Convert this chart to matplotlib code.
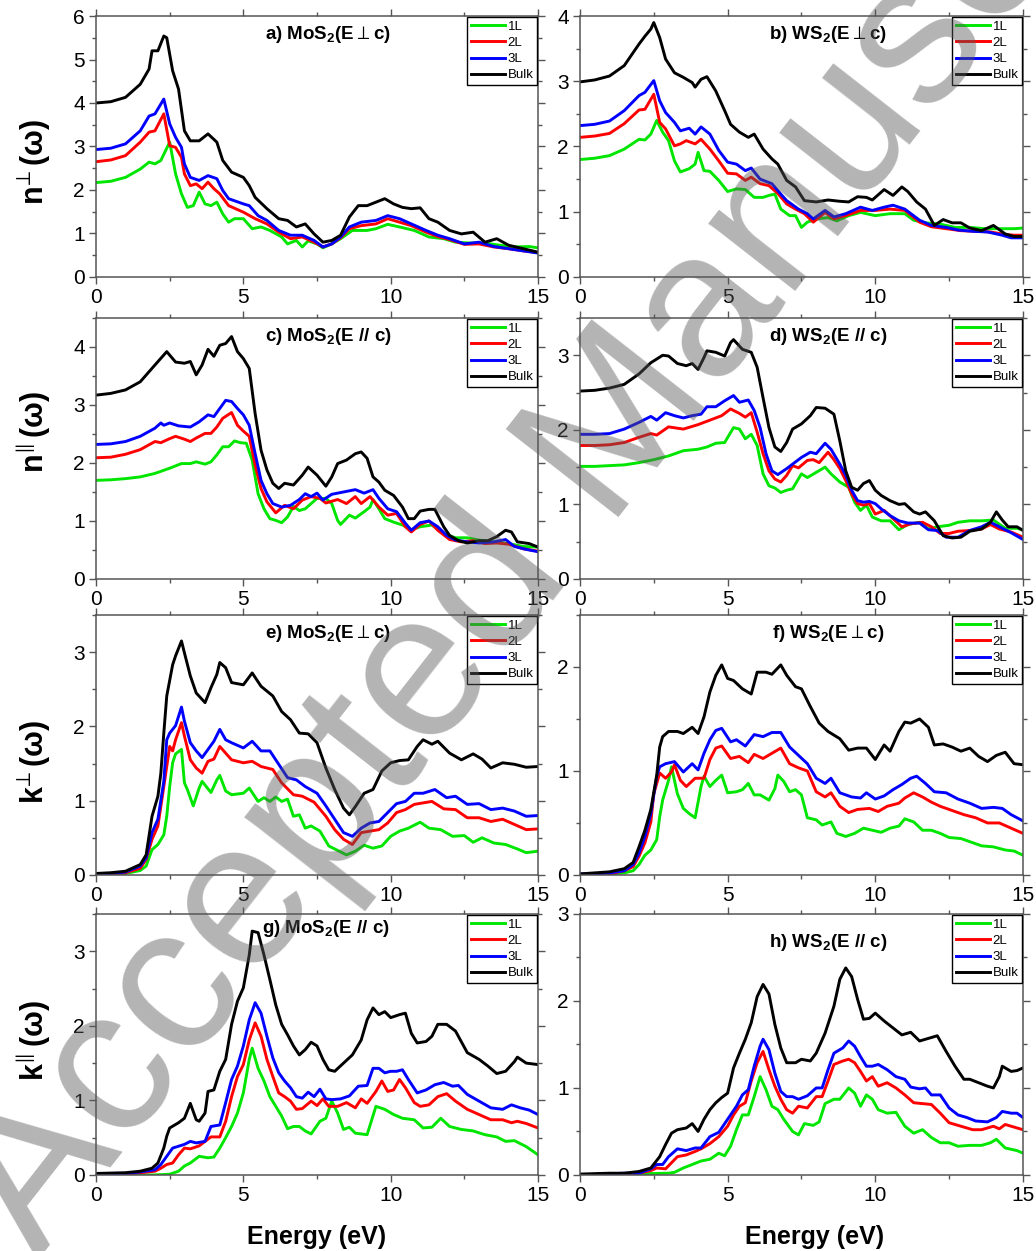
import numpy as np
import matplotlib.pyplot as plt
from matplotlib.ticker import MultipleLocator

plt.rcParams['font.family'] = ['Liberation Sans', 'DejaVu Sans']
plt.rcParams['mathtext.fontset'] = 'custom'
plt.rcParams['mathtext.rm'] = 'Liberation Sans'
plt.rcParams['mathtext.bf'] = 'Liberation Sans:bold'
plt.rcParams['mathtext.fallback'] = 'stixsans'

# (energy in eV, value) pairs read per layer count

# a) MoS2 n, E perp c
a_1L = [(0,2.17),(0.5,2.2),(1,2.29),(1.5,2.48),(1.8,2.64),(2.0,2.6),(2.2,2.68),(2.5,3.1),(2.7,2.37),(2.9,1.91),(3.1,1.6),(3.3,1.64),(3.5,1.95),(3.7,1.68),(3.9,1.64),(4.1,1.72),(4.3,1.45),(4.5,1.26),(4.7,1.34),(5.0,1.34),(5.3,1.11),(5.6,1.15),(5.9,1.07),(6.3,0.92),(6.5,0.76),(6.8,0.84),(7.0,0.69),(7.2,0.83),(7.5,0.76),(7.7,0.67),(8.0,0.76),(8.3,0.88),(8.7,1.07),(9.2,1.07),(9.5,1.11),(9.9,1.21),(10.3,1.15),(10.8,1.07),(11.3,0.92),(11.8,0.88),(12.2,0.8),(12.7,0.78),(13.2,0.78),(13.7,0.73),(14.2,0.69),(14.7,0.7),(15,0.67)]
a_2L = [(0,2.65),(0.5,2.69),(1,2.79),(1.5,3.1),(1.8,3.33),(2.0,3.36),(2.3,3.75),(2.5,3.02),(2.7,2.98),(2.9,2.75),(3.0,2.37),(3.2,2.1),(3.4,2.14),(3.6,2.03),(3.8,2.18),(4.0,2.03),(4.2,1.91),(4.5,1.64),(5.0,1.49),(5.4,1.34),(5.8,1.22),(6.2,1.03),(6.6,0.88),(7.0,0.92),(7.4,0.8),(7.7,0.69),(8.0,0.76),(8.3,0.9),(8.6,1.11),(9.0,1.18),(9.5,1.22),(9.9,1.34),(10.3,1.26),(10.7,1.18),(11.2,1.03),(11.6,0.93),(12.0,0.86),(12.5,0.75),(13.0,0.76),(13.5,0.69),(14.0,0.65),(14.5,0.6),(15,0.56)]
a_3L = [(0,2.93),(0.5,2.96),(1,3.06),(1.5,3.36),(1.8,3.7),(2.0,3.75),(2.3,4.09),(2.5,3.52),(2.7,3.21),(2.9,2.98),(3.0,2.6),(3.2,2.29),(3.5,2.22),(3.8,2.33),(4.1,2.26),(4.3,1.99),(4.5,1.8),(5.0,1.68),(5.2,1.64),(5.5,1.41),(5.8,1.3),(6.2,1.07),(6.6,0.96),(7.0,0.96),(7.4,0.84),(7.7,0.69),(8.0,0.76),(8.3,0.92),(8.6,1.15),(9.0,1.26),(9.5,1.3),(9.9,1.41),(10.3,1.34),(10.7,1.22),(11.2,1.07),(11.6,0.96),(12.0,0.88),(12.5,0.76),(13.0,0.8),(13.5,0.7),(14.0,0.65),(14.5,0.6),(15,0.55)]
a_bulk = [(0,4.0),(0.5,4.03),(1,4.13),(1.5,4.43),(1.8,4.78),(1.9,5.2),(2.1,5.2),(2.3,5.54),(2.4,5.5),(2.6,4.74),(2.8,4.32),(3.0,3.36),(3.2,3.13),(3.5,3.13),(3.8,3.29),(4.1,3.1),(4.3,2.68),(4.6,2.41),(5.0,2.29),(5.2,2.1),(5.4,1.83),(5.8,1.57),(6.2,1.34),(6.5,1.3),(6.8,1.15),(7.1,1.22),(7.4,0.99),(7.7,0.8),(8.0,0.84),(8.3,0.96),(8.6,1.38),(8.9,1.64),(9.2,1.64),(9.5,1.72),(9.8,1.8),(10.1,1.68),(10.4,1.6),(10.7,1.57),(11.0,1.59),(11.3,1.34),(11.6,1.26),(12.0,1.07),(12.4,0.99),(12.8,1.03),(13.2,0.8),(13.6,0.88),(14.0,0.73),(14.5,0.65),(15,0.57)]

# b) WS2 n, E perp c
b_1L = [(0,1.8),(0.5,1.82),(1,1.86),(1.5,1.96),(2.0,2.11),(2.2,2.1),(2.4,2.19),(2.6,2.4),(2.8,2.22),(3.0,2.09),(3.2,1.78),(3.4,1.61),(3.7,1.66),(3.9,1.73),(4.0,1.91),(4.2,1.63),(4.4,1.62),(4.7,1.48),(5.0,1.31),(5.3,1.35),(5.6,1.34),(5.9,1.22),(6.2,1.22),(6.4,1.25),(6.6,1.27),(6.8,1.04),(7.1,0.94),(7.3,0.94),(7.5,0.76),(7.7,0.84),(8.0,0.89),(8.4,0.91),(8.7,0.86),(9.1,0.94),(9.5,0.99),(10.0,0.94),(10.5,0.97),(11.0,0.97),(11.3,0.87),(11.7,0.83),(12.2,0.81),(12.7,0.76),(13.2,0.76),(13.7,0.74),(14.2,0.74),(14.7,0.74),(15,0.75)]
b_2L = [(0,2.14),(0.5,2.16),(1,2.2),(1.5,2.35),(2.0,2.56),(2.2,2.57),(2.5,2.8),(2.7,2.37),(2.9,2.27),(3.2,2.01),(3.4,2.04),(3.6,2.09),(3.9,2.04),(4.1,2.11),(4.4,1.96),(4.7,1.78),(5.0,1.59),(5.3,1.58),(5.6,1.48),(5.8,1.53),(6.1,1.43),(6.4,1.4),(6.7,1.28),(7.0,1.12),(7.3,1.04),(7.6,0.97),(7.9,0.84),(8.3,0.99),(8.6,0.89),(9.0,0.94),(9.5,1.02),(10.0,1.02),(10.5,1.04),(11.0,1.02),(11.5,0.84),(11.9,0.77),(12.4,0.74),(12.9,0.71),(13.4,0.7),(13.9,0.69),(14.4,0.65),(14.7,0.64),(15,0.64)]
b_3L = [(0,2.32),(0.5,2.34),(1,2.39),(1.5,2.55),(2.0,2.78),(2.2,2.83),(2.5,3.01),(2.7,2.7),(2.9,2.52),(3.2,2.37),(3.4,2.24),(3.7,2.28),(3.9,2.19),(4.1,2.3),(4.4,2.19),(4.7,1.94),(5.0,1.76),(5.3,1.73),(5.6,1.63),(5.8,1.67),(6.1,1.5),(6.5,1.43),(6.8,1.27),(7.0,1.17),(7.4,1.04),(7.7,0.97),(7.9,0.89),(8.3,1.02),(8.6,0.92),(9.0,0.97),(9.5,1.07),(9.9,1.02),(10.3,1.07),(10.6,1.1),(11.0,1.04),(11.5,0.87),(11.9,0.79),(12.4,0.76),(12.8,0.72),(13.3,0.7),(13.8,0.69),(14.3,0.64),(14.6,0.6),(15,0.6)]
b_bulk = [(0,2.99),(0.5,3.02),(1,3.08),(1.5,3.24),(2.0,3.57),(2.2,3.69),(2.4,3.8),(2.5,3.9),(2.7,3.67),(2.9,3.34),(3.2,3.13),(3.5,3.06),(3.8,2.98),(3.9,2.91),(4.1,3.03),(4.3,3.07),(4.6,2.85),(4.9,2.55),(5.1,2.34),(5.4,2.22),(5.7,2.14),(5.9,2.19),(6.2,1.96),(6.5,1.81),(6.7,1.73),(7.0,1.48),(7.3,1.38),(7.6,1.17),(8.0,1.15),(8.4,1.18),(8.8,1.16),(9.1,1.15),(9.4,1.23),(9.7,1.22),(9.9,1.18),(10.3,1.34),(10.6,1.25),(10.9,1.38),(11.1,1.31),(11.4,1.15),(11.7,1.04),(12.0,0.79),(12.3,0.88),(12.6,0.83),(12.9,0.83),(13.2,0.75),(13.6,0.71),(14.0,0.79),(14.4,0.66),(14.7,0.62),(15,0.62)]

# c) MoS2 n, E // c
c_1L = [(0,1.7),(0.5,1.71),(1,1.73),(1.5,1.76),(2.0,1.82),(2.5,1.91),(2.9,1.99),(3.2,1.99),(3.4,2.02),(3.7,1.98),(3.9,2.02),(4.1,2.14),(4.3,2.28),(4.5,2.28),(4.7,2.38),(4.9,2.35),(5.1,2.34),(5.3,2.05),(5.5,1.47),(5.7,1.21),(5.9,1.04),(6.1,1.01),(6.3,0.97),(6.5,1.07),(6.7,1.25),(6.9,1.18),(7.1,1.21),(7.3,1.3),(7.5,1.39),(7.8,1.39),(8.0,1.3),(8.2,1.01),(8.3,0.94),(8.6,1.1),(8.8,1.05),(9.1,1.16),(9.3,1.24),(9.4,1.37),(9.6,1.21),(9.8,1.04),(10.1,0.98),(10.4,0.93),(10.7,0.85),(11.0,0.9),(11.4,0.93),(11.8,0.78),(12.2,0.71),(12.6,0.71),(13.0,0.67),(13.5,0.64),(14.0,0.61),(14.5,0.56),(15,0.55)]
c_2L = [(0,2.09),(0.5,2.1),(1,2.15),(1.5,2.23),(2.0,2.37),(2.2,2.35),(2.5,2.42),(2.7,2.46),(3.0,2.41),(3.2,2.37),(3.4,2.43),(3.7,2.51),(3.9,2.51),(4.1,2.62),(4.3,2.77),(4.6,2.87),(4.8,2.65),(5.0,2.55),(5.2,2.46),(5.4,1.96),(5.6,1.56),(5.8,1.33),(6.1,1.14),(6.4,1.27),(6.7,1.21),(7.0,1.36),(7.3,1.42),(7.6,1.39),(7.8,1.31),(8.2,1.37),(8.5,1.3),(8.8,1.42),(9.0,1.3),(9.3,1.42),(9.6,1.24),(9.9,1.1),(10.2,1.13),(10.5,0.9),(10.7,0.81),(11.0,0.94),(11.3,1.0),(11.6,0.84),(12.0,0.68),(12.4,0.64),(12.8,0.66),(13.2,0.61),(13.6,0.62),(14.0,0.6),(14.5,0.52),(15,0.48)]
c_3L = [(0,2.32),(0.5,2.33),(1,2.37),(1.5,2.46),(2.0,2.6),(2.2,2.69),(2.3,2.65),(2.5,2.69),(2.8,2.64),(3.2,2.62),(3.5,2.71),(3.8,2.83),(4.0,2.8),(4.2,2.94),(4.4,3.08),(4.6,3.06),(4.8,2.94),(5.0,2.83),(5.2,2.65),(5.4,2.16),(5.6,1.7),(5.8,1.47),(6.0,1.3),(6.3,1.24),(6.6,1.27),(6.9,1.37),(7.1,1.47),(7.3,1.42),(7.5,1.48),(7.7,1.36),(8.0,1.46),(8.3,1.49),(8.6,1.52),(8.8,1.54),(9.1,1.48),(9.4,1.54),(9.6,1.39),(9.9,1.21),(10.2,1.16),(10.5,0.96),(10.7,0.84),(11.0,0.97),(11.3,1.0),(11.6,0.9),(11.9,0.75),(12.2,0.67),(12.6,0.64),(13.0,0.62),(13.5,0.64),(13.9,0.68),(14.2,0.56),(14.6,0.51),(15,0.47)]
c_bulk = [(0,3.17),(0.5,3.2),(1,3.26),(1.5,3.4),(2.0,3.69),(2.4,3.92),(2.7,3.74),(3.0,3.72),(3.2,3.75),(3.4,3.52),(3.6,3.69),(3.8,3.96),(4.0,3.84),(4.2,4.03),(4.4,4.06),(4.6,4.18),(4.8,3.92),(5.0,3.8),(5.2,3.63),(5.4,2.85),(5.6,2.22),(5.8,1.88),(6.0,1.65),(6.2,1.56),(6.4,1.65),(6.7,1.62),(7.0,1.79),(7.2,1.93),(7.5,1.79),(7.8,1.6),(8.0,1.76),(8.2,1.99),(8.5,2.05),(8.8,2.16),(9.0,2.19),(9.2,2.08),(9.4,1.76),(9.6,1.67),(9.8,1.53),(10.1,1.44),(10.4,1.24),(10.6,1.04),(10.8,1.04),(11.0,1.17),(11.3,1.2),(11.5,1.2),(11.8,0.9),(12.0,0.75),(12.3,0.66),(12.6,0.62),(13.0,0.66),(13.3,0.66),(13.6,0.73),(13.9,0.84),(14.1,0.81),(14.3,0.64),(14.7,0.61),(15,0.55)]

# d) WS2 n, E // c
d_1L = [(0,1.51),(0.5,1.51),(1,1.52),(1.5,1.53),(2.0,1.56),(2.5,1.6),(3.0,1.65),(3.5,1.72),(4.0,1.74),(4.3,1.77),(4.6,1.82),(4.9,1.83),(5.2,2.03),(5.4,2.01),(5.6,1.88),(5.8,1.94),(6.0,1.79),(6.2,1.41),(6.4,1.25),(6.6,1.22),(6.8,1.16),(7.0,1.19),(7.2,1.21),(7.5,1.41),(7.7,1.36),(8.0,1.43),(8.3,1.5),(8.5,1.41),(8.8,1.3),(9.1,1.23),(9.3,1.03),(9.5,0.92),(9.7,0.99),(9.9,0.83),(10.2,0.78),(10.5,0.78),(10.8,0.66),(11.1,0.73),(11.5,0.76),(11.8,0.67),(12.1,0.7),(12.5,0.72),(12.8,0.76),(13.2,0.78),(13.6,0.78),(14.0,0.79),(14.4,0.68),(14.8,0.68),(15,0.66)]
d_2L = [(0,1.79),(0.5,1.79),(1,1.8),(1.5,1.83),(2.0,1.9),(2.4,1.95),(2.6,1.93),(3.0,2.04),(3.5,2.01),(4.0,2.07),(4.4,2.13),(4.8,2.19),(5.1,2.28),(5.4,2.22),(5.6,2.17),(5.8,2.23),(6.0,1.97),(6.2,1.68),(6.4,1.45),(6.6,1.34),(6.8,1.3),(7.0,1.39),(7.2,1.52),(7.4,1.49),(7.7,1.59),(7.9,1.6),(8.1,1.56),(8.4,1.7),(8.6,1.6),(8.8,1.48),(9.0,1.32),(9.2,1.14),(9.4,1.01),(9.6,0.99),(9.8,1.01),(10.0,0.87),(10.3,0.92),(10.6,0.81),(10.9,0.7),(11.2,0.74),(11.6,0.76),(11.9,0.7),(12.2,0.61),(12.5,0.61),(12.8,0.64),(13.2,0.65),(13.6,0.67),(13.9,0.73),(14.2,0.67),(14.6,0.63),(15,0.56)]
d_3L = [(0,1.94),(0.5,1.94),(1,1.95),(1.5,2.01),(2.0,2.1),(2.4,2.18),(2.6,2.13),(2.9,2.23),(3.2,2.19),(3.5,2.16),(3.8,2.19),(4.1,2.21),(4.3,2.31),(4.6,2.31),(4.9,2.39),(5.2,2.46),(5.4,2.37),(5.7,2.4),(5.9,2.26),(6.1,2.03),(6.3,1.68),(6.5,1.45),(6.7,1.4),(7.0,1.48),(7.2,1.54),(7.5,1.63),(7.8,1.7),(8.0,1.68),(8.3,1.82),(8.5,1.74),(8.8,1.54),(9.0,1.39),(9.2,1.19),(9.4,1.05),(9.6,1.03),(9.8,1.04),(10.0,1.01),(10.2,0.94),(10.5,0.85),(10.8,0.78),(11.1,0.75),(11.5,0.75),(11.8,0.66),(12.1,0.65),(12.4,0.56),(12.8,0.56),(13.2,0.65),(13.6,0.7),(13.9,0.76),(14.2,0.7),(14.6,0.62),(15,0.53)]
d_bulk = [(0,2.52),(0.5,2.53),(1,2.56),(1.5,2.61),(2.0,2.75),(2.4,2.9),(2.8,3.0),(3.0,2.99),(3.3,2.89),(3.6,2.86),(3.8,2.89),(4.0,2.81),(4.2,2.97),(4.3,3.06),(4.6,3.04),(4.9,2.99),(5.1,3.17),(5.2,3.21),(5.5,3.08),(5.8,3.04),(6.0,2.84),(6.2,2.43),(6.4,2.03),(6.6,1.77),(6.8,1.71),(7.0,1.83),(7.2,2.01),(7.5,2.08),(7.8,2.19),(8.0,2.3),(8.3,2.29),(8.6,2.21),(8.8,1.85),(9.0,1.45),(9.2,1.23),(9.4,1.19),(9.6,1.28),(9.8,1.32),(10.0,1.19),(10.2,1.12),(10.5,1.05),(10.8,1.0),(11.0,1.01),(11.3,0.9),(11.5,0.87),(11.7,0.9),(12.0,0.78),(12.3,0.58),(12.6,0.55),(12.9,0.56),(13.2,0.64),(13.6,0.67),(13.9,0.76),(14.1,0.9),(14.3,0.79),(14.5,0.7),(14.8,0.7),(15,0.65)]

# e) MoS2 k, E perp c
e_1L = [(0,0.0),(0.5,0.01),(1,0.02),(1.5,0.06),(1.7,0.12),(1.9,0.34),(2.1,0.41),(2.3,0.54),(2.4,0.79),(2.5,1.19),(2.6,1.51),(2.7,1.63),(2.9,1.69),(3.0,1.24),(3.1,1.15),(3.3,0.93),(3.5,1.17),(3.6,1.26),(3.9,1.11),(4.1,1.28),(4.2,1.34),(4.4,1.13),(4.6,1.08),(5.0,1.1),(5.2,1.17),(5.5,0.99),(5.7,1.04),(5.9,0.99),(6.1,1.05),(6.3,0.99),(6.5,1.02),(6.7,0.79),(6.9,0.81),(7.1,0.63),(7.3,0.66),(7.6,0.59),(7.9,0.39),(8.2,0.33),(8.5,0.27),(8.8,0.32),(9.1,0.4),(9.4,0.36),(9.7,0.39),(10.0,0.52),(10.3,0.59),(10.6,0.63),(11.0,0.71),(11.3,0.63),(11.7,0.61),(12.1,0.52),(12.5,0.53),(12.8,0.44),(13.1,0.5),(13.5,0.43),(13.9,0.41),(14.3,0.35),(14.6,0.3),(15,0.32)]
e_2L = [(0,0.01),(0.5,0.01),(1,0.03),(1.5,0.09),(1.7,0.21),(1.9,0.48),(2.1,0.66),(2.3,1.19),(2.5,1.73),(2.6,1.67),(2.7,1.82),(2.9,2.05),(3.0,1.87),(3.2,1.55),(3.4,1.44),(3.6,1.37),(3.8,1.53),(4.0,1.56),(4.2,1.73),(4.4,1.64),(4.6,1.55),(5.0,1.51),(5.3,1.53),(5.6,1.46),(6.0,1.42),(6.3,1.24),(6.7,1.08),(7.0,1.06),(7.4,0.98),(7.8,0.79),(8.1,0.61),(8.4,0.48),(8.7,0.41),(9.0,0.57),(9.3,0.59),(9.6,0.61),(9.9,0.7),(10.2,0.84),(10.5,0.88),(10.8,0.95),(11.1,0.97),(11.4,0.99),(11.8,0.89),(12.2,0.88),(12.6,0.77),(13.0,0.77),(13.4,0.72),(13.8,0.75),(14.2,0.68),(14.6,0.61),(15,0.62)]
e_3L = [(0,0.01),(0.5,0.02),(1,0.04),(1.5,0.12),(1.7,0.23),(1.9,0.57),(2.1,0.75),(2.3,1.26),(2.4,1.82),(2.5,1.91),(2.7,2.01),(2.9,2.26),(3.0,2.07),(3.2,1.78),(3.4,1.67),(3.6,1.58),(3.8,1.69),(4.0,1.8),(4.2,1.96),(4.4,1.82),(4.6,1.78),(5.0,1.71),(5.3,1.8),(5.6,1.67),(5.9,1.67),(6.2,1.49),(6.5,1.31),(6.8,1.28),(7.1,1.19),(7.5,1.1),(7.8,0.93),(8.1,0.75),(8.4,0.57),(8.7,0.52),(9.0,0.63),(9.3,0.7),(9.6,0.72),(9.9,0.84),(10.2,0.96),(10.5,0.99),(10.8,1.1),(11.1,1.1),(11.5,1.15),(11.9,1.04),(12.2,1.06),(12.6,0.95),(13.0,0.96),(13.4,0.88),(13.8,0.9),(14.2,0.86),(14.6,0.79),(15,0.8)]
e_bulk = [(0,0.02),(0.5,0.03),(1,0.05),(1.5,0.14),(1.7,0.27),(1.9,0.79),(2.1,1.06),(2.2,1.37),(2.3,1.91),(2.4,2.41),(2.6,2.83),(2.7,2.95),(2.9,3.15),(3.0,2.99),(3.2,2.68),(3.4,2.45),(3.7,2.32),(3.9,2.52),(4.1,2.7),(4.2,2.86),(4.4,2.79),(4.6,2.59),(5.0,2.56),(5.3,2.72),(5.6,2.54),(6.0,2.41),(6.3,2.2),(6.6,2.09),(6.9,1.91),(7.2,1.9),(7.5,1.78),(7.8,1.44),(8.1,1.15),(8.4,0.9),(8.6,0.81),(8.8,0.92),(9.1,1.1),(9.4,1.15),(9.7,1.4),(10.0,1.51),(10.3,1.54),(10.6,1.55),(10.9,1.73),(11.1,1.82),(11.4,1.76),(11.6,1.8),(12.0,1.64),(12.4,1.55),(12.8,1.63),(13.1,1.56),(13.4,1.44),(13.8,1.51),(14.2,1.49),(14.6,1.45),(15,1.46)]

# f) WS2 k, E perp c
f_1L = [(0,0.0),(1,0.01),(1.5,0.02),(1.8,0.04),(2.0,0.1),(2.2,0.19),(2.4,0.24),(2.6,0.34),(2.7,0.56),(2.8,0.72),(3.0,0.91),(3.1,1.04),(3.3,0.78),(3.5,0.64),(3.7,0.59),(3.9,0.55),(4.1,0.85),(4.2,0.95),(4.4,0.85),(4.6,0.91),(4.8,0.96),(5.0,0.79),(5.3,0.8),(5.5,0.82),(5.7,0.88),(5.9,0.77),(6.1,0.77),(6.4,0.72),(6.6,0.83),(6.7,0.96),(6.9,0.9),(7.1,0.8),(7.3,0.82),(7.5,0.77),(7.7,0.55),(8.0,0.53),(8.2,0.48),(8.5,0.51),(8.7,0.4),(9.0,0.37),(9.3,0.4),(9.6,0.45),(9.9,0.43),(10.2,0.41),(10.5,0.45),(10.8,0.47),(11.0,0.54),(11.3,0.51),(11.6,0.43),(11.9,0.43),(12.2,0.4),(12.5,0.36),(12.9,0.35),(13.3,0.31),(13.6,0.28),(14.0,0.27),(14.4,0.24),(14.7,0.23),(15,0.19)]
f_2L = [(0,0.0),(0.5,0.01),(1,0.01),(1.5,0.04),(1.8,0.08),(2.0,0.18),(2.2,0.31),(2.4,0.51),(2.5,0.78),(2.7,0.98),(2.9,0.93),(3.1,0.99),(3.2,1.06),(3.4,0.91),(3.6,0.85),(3.9,0.93),(4.2,0.93),(4.4,1.11),(4.6,1.22),(4.8,1.24),(5.1,1.12),(5.4,1.14),(5.7,1.08),(5.9,1.16),(6.2,1.12),(6.5,1.17),(6.8,1.22),(7.1,1.07),(7.4,1.03),(7.7,1.0),(8.0,0.8),(8.3,0.75),(8.5,0.79),(8.8,0.66),(9.1,0.6),(9.4,0.63),(9.8,0.64),(10.1,0.61),(10.4,0.66),(10.8,0.69),(11.0,0.74),(11.3,0.79),(11.6,0.75),(11.9,0.7),(12.2,0.66),(12.6,0.62),(13.0,0.58),(13.4,0.55),(13.8,0.5),(14.2,0.5),(14.6,0.45),(15,0.4)]
f_3L = [(0,0.01),(0.5,0.01),(1,0.02),(1.5,0.04),(1.8,0.1),(2.0,0.21),(2.2,0.37),(2.4,0.59),(2.6,0.95),(2.7,1.04),(2.9,1.07),(3.2,1.09),(3.5,0.99),(3.8,1.07),(4.0,1.01),(4.2,1.17),(4.4,1.3),(4.6,1.39),(4.8,1.41),(5.1,1.28),(5.3,1.3),(5.6,1.24),(5.9,1.35),(6.2,1.33),(6.5,1.37),(6.8,1.37),(7.1,1.23),(7.4,1.15),(7.7,1.07),(8.0,0.93),(8.3,0.88),(8.5,0.93),(8.8,0.79),(9.2,0.75),(9.5,0.74),(9.7,0.79),(10.0,0.73),(10.3,0.76),(10.6,0.82),(10.9,0.87),(11.2,0.93),(11.4,0.95),(11.7,0.88),(12.0,0.8),(12.4,0.79),(12.8,0.73),(13.2,0.69),(13.6,0.64),(14.0,0.65),(14.3,0.64),(14.6,0.58),(15,0.52)]
f_bulk = [(0,0.01),(0.5,0.02),(1,0.03),(1.5,0.06),(1.8,0.12),(2.0,0.27),(2.2,0.43),(2.4,0.63),(2.6,0.96),(2.7,1.23),(2.8,1.33),(3.0,1.38),(3.3,1.38),(3.5,1.36),(3.8,1.42),(4.0,1.36),(4.2,1.52),(4.4,1.76),(4.6,1.92),(4.8,2.02),(5.0,1.89),(5.2,1.87),(5.5,1.79),(5.8,1.74),(6.0,1.95),(6.3,1.95),(6.5,1.93),(6.8,2.02),(7.0,1.92),(7.3,1.81),(7.5,1.79),(7.8,1.62),(8.1,1.46),(8.4,1.38),(8.8,1.31),(9.1,1.2),(9.4,1.22),(9.7,1.22),(10.0,1.11),(10.3,1.25),(10.5,1.19),(10.8,1.38),(11.0,1.47),(11.2,1.46),(11.5,1.5),(11.8,1.42),(12.0,1.25),(12.3,1.26),(12.6,1.23),(12.9,1.19),(13.2,1.22),(13.5,1.14),(13.8,1.09),(14.1,1.15),(14.4,1.18),(14.7,1.07),(15,1.06)]

# g) MoS2 k, E // c
g_1L = [(0,0.0),(2.0,0.0),(2.5,0.01),(2.8,0.05),(3.0,0.12),(3.2,0.16),(3.5,0.25),(3.8,0.23),(4.0,0.24),(4.2,0.36),(4.4,0.5),(4.6,0.65),(4.8,0.83),(5.0,1.1),(5.2,1.55),(5.3,1.7),(5.5,1.43),(5.7,1.26),(5.9,1.05),(6.1,0.92),(6.3,0.79),(6.5,0.62),(6.7,0.65),(6.9,0.65),(7.1,0.59),(7.3,0.55),(7.6,0.72),(7.8,0.76),(8.0,0.99),(8.2,0.83),(8.4,0.61),(8.6,0.64),(8.8,0.56),(9.2,0.54),(9.5,0.92),(9.8,0.88),(10.1,0.81),(10.4,0.76),(10.8,0.74),(11.1,0.63),(11.4,0.64),(11.7,0.76),(12.0,0.65),(12.4,0.61),(12.8,0.59),(13.2,0.54),(13.6,0.51),(13.9,0.45),(14.2,0.46),(14.6,0.38),(15,0.27)]
g_2L = [(0,0.01),(1,0.01),(1.5,0.03),(2.0,0.05),(2.2,0.09),(2.4,0.14),(2.6,0.16),(2.8,0.27),(3.0,0.36),(3.2,0.35),(3.5,0.39),(3.7,0.45),(3.9,0.51),(4.2,0.51),(4.4,0.72),(4.6,1.05),(4.8,1.32),(5.0,1.48),(5.2,1.81),(5.4,2.04),(5.6,1.86),(5.8,1.55),(6.0,1.32),(6.2,1.1),(6.4,1.05),(6.6,0.99),(6.8,0.88),(7.0,0.89),(7.3,0.99),(7.5,0.93),(7.7,1.02),(7.9,0.92),(8.2,0.92),(8.5,0.97),(8.8,0.9),(9.0,1.02),(9.2,0.96),(9.5,1.12),(9.7,1.26),(9.9,1.12),(10.1,1.14),(10.3,1.28),(10.5,1.17),(10.8,0.97),(11.0,0.92),(11.3,0.94),(11.6,1.05),(11.9,1.09),(12.2,0.99),(12.6,0.88),(13.0,0.81),(13.4,0.74),(13.8,0.74),(14.1,0.7),(14.3,0.72),(14.6,0.69),(15,0.63)]
g_3L = [(0,0.01),(1,0.02),(1.5,0.04),(2.0,0.07),(2.2,0.14),(2.4,0.25),(2.6,0.36),(3.0,0.41),(3.2,0.45),(3.4,0.43),(3.7,0.45),(3.9,0.65),(4.2,0.67),(4.4,0.97),(4.6,1.28),(4.8,1.46),(5.0,1.73),(5.2,2.08),(5.4,2.31),(5.6,2.17),(5.8,1.86),(6.0,1.57),(6.2,1.37),(6.4,1.26),(6.6,1.17),(6.8,1.05),(7.0,1.03),(7.2,1.11),(7.4,1.05),(7.6,1.15),(7.8,1.02),(8.0,1.01),(8.3,1.02),(8.6,1.06),(8.9,1.19),(9.2,1.2),(9.4,1.43),(9.6,1.43),(9.8,1.37),(10.0,1.39),(10.2,1.39),(10.4,1.41),(10.6,1.28),(10.9,1.1),(11.2,1.14),(11.5,1.21),(11.8,1.24),(12.1,1.19),(12.3,1.2),(12.6,1.08),(13.0,0.99),(13.4,0.9),(13.8,0.88),(14.1,0.94),(14.4,0.9),(14.7,0.87),(15,0.81)]
g_bulk = [(0,0.02),(1,0.03),(1.5,0.05),(1.9,0.09),(2.1,0.16),(2.3,0.36),(2.4,0.52),(2.5,0.63),(2.8,0.7),(3.0,0.76),(3.2,0.96),(3.4,0.74),(3.5,0.72),(3.7,0.83),(3.8,1.12),(4.0,1.14),(4.2,1.39),(4.4,1.55),(4.6,2.02),(4.8,2.33),(5.0,2.51),(5.2,2.95),(5.3,3.27),(5.5,3.25),(5.7,2.95),(5.9,2.62),(6.1,2.28),(6.3,2.02),(6.5,1.88),(6.7,1.73),(6.9,1.61),(7.1,1.68),(7.3,1.78),(7.5,1.73),(7.7,1.55),(7.9,1.41),(8.1,1.39),(8.4,1.5),(8.7,1.61),(9.0,1.81),(9.2,2.08),(9.4,2.24),(9.6,2.15),(9.8,2.19),(10.0,2.11),(10.3,2.15),(10.5,2.17),(10.7,1.9),(10.9,1.77),(11.2,1.79),(11.4,1.86),(11.6,2.02),(11.9,2.02),(12.2,1.93),(12.6,1.64),(13.0,1.55),(13.3,1.46),(13.6,1.36),(13.9,1.39),(14.2,1.52),(14.3,1.58),(14.6,1.5),(15,1.48)]

# h) WS2 k, E // c
h_1L = [(0,0.0),(3.0,0.02),(3.2,0.03),(3.5,0.08),(3.8,0.12),(4.1,0.16),(4.4,0.18),(4.7,0.25),(4.9,0.22),(5.1,0.33),(5.3,0.52),(5.5,0.69),(5.7,0.69),(5.9,0.9),(6.1,1.13),(6.3,0.98),(6.5,0.79),(6.7,0.75),(6.9,0.64),(7.2,0.5),(7.4,0.46),(7.6,0.59),(7.9,0.57),(8.1,0.61),(8.3,0.82),(8.6,0.87),(8.8,0.87),(9.1,1.0),(9.3,0.94),(9.5,0.79),(9.7,0.92),(9.9,0.87),(10.1,0.75),(10.4,0.71),(10.7,0.72),(11.0,0.56),(11.3,0.48),(11.6,0.52),(11.9,0.43),(12.2,0.37),(12.5,0.37),(12.8,0.33),(13.2,0.34),(13.6,0.34),(13.9,0.37),(14.1,0.41),(14.4,0.31),(14.8,0.28),(15,0.25)]
h_2L = [(0,0.0),(2.0,0.02),(2.4,0.05),(2.6,0.08),(2.9,0.07),(3.1,0.14),(3.3,0.21),(3.6,0.23),(3.9,0.27),(4.1,0.3),(4.4,0.36),(4.7,0.44),(5.0,0.56),(5.2,0.69),(5.4,0.79),(5.6,0.83),(5.8,1.08),(6.0,1.29),(6.2,1.42),(6.4,1.21),(6.6,1.02),(6.8,0.87),(7.0,0.75),(7.2,0.71),(7.4,0.79),(7.7,0.77),(8.0,0.9),(8.2,0.9),(8.4,1.08),(8.6,1.27),(8.9,1.31),(9.1,1.33),(9.3,1.29),(9.5,1.19),(9.7,1.08),(9.9,1.13),(10.1,1.02),(10.4,1.06),(10.7,1.0),(11.0,0.92),(11.3,0.83),(11.6,0.82),(11.9,0.81),(12.2,0.71),(12.5,0.6),(12.9,0.56),(13.3,0.52),(13.6,0.52),(14.0,0.56),(14.2,0.53),(14.4,0.58),(14.7,0.55),(15,0.52)]
h_3L = [(0,0.0),(1.5,0.02),(2.0,0.02),(2.4,0.07),(2.6,0.12),(2.8,0.12),(3.0,0.21),(3.3,0.3),(3.6,0.28),(3.9,0.31),(4.1,0.31),(4.4,0.44),(4.7,0.49),(5.0,0.64),(5.3,0.79),(5.5,0.92),(5.7,0.98),(5.9,1.25),(6.1,1.48),(6.2,1.56),(6.4,1.44),(6.6,1.17),(6.8,0.96),(7.0,0.9),(7.2,0.9),(7.4,0.87),(7.7,0.91),(8.0,1.0),(8.2,1.0),(8.4,1.21),(8.6,1.4),(8.9,1.46),(9.1,1.54),(9.3,1.48),(9.5,1.36),(9.7,1.25),(9.9,1.25),(10.1,1.27),(10.4,1.21),(10.7,1.13),(11.0,1.1),(11.2,1.01),(11.5,0.99),(11.7,1.0),(11.9,0.92),(12.2,0.92),(12.5,0.77),(12.8,0.69),(13.1,0.66),(13.4,0.62),(13.8,0.61),(14.1,0.66),(14.3,0.73),(14.6,0.71),(14.8,0.71),(15,0.66)]
h_bulk = [(0,0.01),(1,0.02),(1.5,0.02),(2.0,0.04),(2.4,0.08),(2.7,0.21),(2.9,0.35),(3.1,0.48),(3.3,0.52),(3.6,0.54),(3.8,0.59),(4.0,0.5),(4.2,0.64),(4.4,0.75),(4.6,0.83),(4.8,0.89),(5.0,0.94),(5.2,1.23),(5.4,1.4),(5.6,1.56),(5.8,1.75),(6.0,2.05),(6.2,2.19),(6.4,2.08),(6.6,1.73),(6.8,1.46),(7.0,1.29),(7.3,1.29),(7.5,1.33),(7.8,1.31),(8.0,1.4),(8.3,1.63),(8.6,1.94),(8.8,2.25),(9.0,2.38),(9.2,2.28),(9.4,2.02),(9.6,1.79),(9.8,1.8),(10.0,1.86),(10.3,1.77),(10.6,1.69),(10.9,1.61),(11.2,1.64),(11.5,1.54),(11.8,1.57),(12.1,1.6),(12.4,1.42),(12.7,1.25),(13.0,1.1),(13.2,1.1),(13.5,1.06),(13.8,1.02),(14.0,1.0),(14.2,1.13),(14.3,1.25),(14.6,1.19),(14.8,1.2),(15,1.23)]

layers = ['1L', '2L', '3L', 'Bulk']
colors = ['#00e600', '#ff0000', '#0000ff', '#000000']

titles = [r'a) MoS$_\mathbf{2}$(E$\perp$c)', r'b) WS$_\mathbf{2}$(E$\perp$c)',
          r'c) MoS$_\mathbf{2}$(E // c)', r'd) WS$_\mathbf{2}$(E // c)',
          r'e) MoS$_\mathbf{2}$(E$\perp$c)', r'f) WS$_\mathbf{2}$(E$\perp$c)',
          r'g) MoS$_\mathbf{2}$(E // c)', r'h) WS$_\mathbf{2}$(E // c)']
ymax = [6, 4, 4.5, 3.5, 3.5, 2.5, 3.5, 3]
ylabels = [r'n$^{\!\perp}$(ω)', r'n$^{\!\parallel}$(ω)', r'k$^{\!\perp}$(ω)', r'k$^{\!\parallel}$(ω)']

panels = [(a_1L, a_2L, a_3L, a_bulk), (b_1L, b_2L, b_3L, b_bulk),
          (c_1L, c_2L, c_3L, c_bulk), (d_1L, d_2L, d_3L, d_bulk),
          (e_1L, e_2L, e_3L, e_bulk), (f_1L, f_2L, f_3L, f_bulk),
          (g_1L, g_2L, g_3L, g_bulk), (h_1L, h_2L, h_3L, h_bulk)]

fig = plt.figure(figsize=(10.36, 12.51), dpi=100)

col_x = [0.0927, 0.5598]
col_w = [0.4266, 0.4276]
row_b = [0.7786, 0.5372, 0.3006, 0.0608]
row_h = [0.2086, 0.2086, 0.2078, 0.2086]
title_pos = [(0.525, 0.93), (0.56, 0.93), (0.525, 0.93), (0.56, 0.93),
             (0.525, 0.93), (0.56, 0.93), (0.52, 0.945), (0.56, 0.89)]
spine_col = '#555555'

for i, curves in enumerate(panels):
    r, c = divmod(i, 2)
    ax = fig.add_axes([col_x[c], row_b[r], col_w[c], row_h[r]])
    for pts, lab, col in zip(curves, layers, colors):
        arr = np.array(pts)
        ax.plot(arr[:, 0], arr[:, 1], color=col, lw=2.1, label=lab,
                solid_joinstyle='round')
    ax.set_xlim(0, 15)
    ax.set_ylim(0, ymax[i])
    ax.xaxis.set_major_locator(MultipleLocator(5))
    ax.xaxis.set_minor_locator(MultipleLocator(2.5))
    ax.yaxis.set_major_locator(MultipleLocator(1))
    ax.yaxis.set_minor_locator(MultipleLocator(0.5))
    ax.tick_params(which='both', direction='out', top=True, right=True,
                   color=spine_col, labelsize=15, pad=3)
    ax.tick_params(which='major', length=5, width=1)
    ax.tick_params(which='minor', length=3, width=1)
    for sp in ax.spines.values():
        sp.set_color(spine_col)
        sp.set_linewidth(1.1)
    ax.text(title_pos[i][0], title_pos[i][1], titles[i], transform=ax.transAxes,
            ha='center', va='center', fontsize=13.5, fontweight='bold')
    leg = ax.legend(loc='upper right', fontsize=9.5, handlelength=2.6,
                    handletextpad=0.2, labelspacing=0.3, borderpad=0.3,
                    borderaxespad=0.05, fancybox=False, framealpha=1)
    leg.get_frame().set_edgecolor('black')
    leg.get_frame().set_linewidth(1.0)

# y-axis labels on the left column
ylab_y = [162, 432, 762, 1041]
for lab, yy in zip(ylabels, ylab_y):
    fig.text(34 / 1036, 1 - yy / 1251, lab, rotation=90, ha='center', va='center',
             fontsize=22, fontweight='bold')

for xx in (317, 815):
    fig.text(xx / 1036, 1 - 1237 / 1251, 'Energy (eV)', ha='center', va='center',
             fontsize=18, fontweight='bold')

# diagonal stamp across the page
fig.text(595 / 1036, 1 - 460 / 1251, 'Accepted Manuscript', rotation=52,
         rotation_mode='anchor', ha='center', va='center', fontsize=150,
         color='#595959', alpha=0.45, zorder=10)

fig.savefig('out.png', dpi=100)
